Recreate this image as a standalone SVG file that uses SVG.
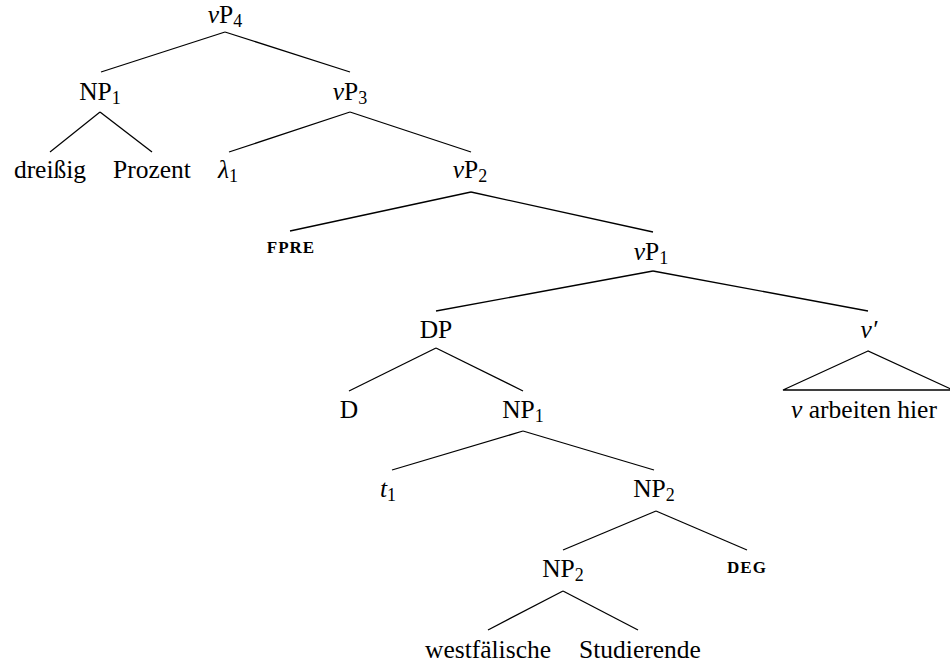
<svg xmlns="http://www.w3.org/2000/svg" width="950" height="668" viewBox="0 0 950 668">
<style>
text{font-size:25.5px;fill:#000;text-anchor:middle}
.i{font-style:italic}
.s{font-size:18px}
.sc{font-size:17px;font-weight:bold;letter-spacing:1px}
.e line,.e polygon{stroke:#000;stroke-width:1.3;fill:none}
</style>
<rect width="950" height="668" fill="#fff"/>
<g class="e" id="connectors">
<line x1="225" y1="32" x2="101" y2="72"/><line x1="225" y1="32" x2="350" y2="72"/>
<line x1="100" y1="112" x2="50" y2="152"/><line x1="100" y1="112" x2="152" y2="152"/>
<line x1="350" y1="112" x2="229" y2="152"/><line x1="350" y1="112" x2="471" y2="152"/>
<line x1="471" y1="192" x2="290" y2="231"/><line x1="471" y1="192" x2="653" y2="232"/>
<line x1="653" y1="271" x2="436" y2="311"/><line x1="653" y1="271" x2="868" y2="311"/>
<line x1="436" y1="348" x2="349" y2="391"/><line x1="436" y1="348" x2="523" y2="391"/>
<polygon points="868,351 783,390 953,390"/>
<line x1="523" y1="431" x2="392" y2="470"/><line x1="523" y1="431" x2="654" y2="470"/>
<line x1="656" y1="511" x2="563" y2="550"/><line x1="656" y1="511" x2="747" y2="550"/>
<line x1="563" y1="591" x2="488" y2="630"/><line x1="563" y1="591" x2="638" y2="630"/>
</g>
<g id="vP4"><text font-family="'Liberation Serif', serif" x="225" y="23"><tspan class="i">v</tspan>P<tspan class="s" dy="4">4</tspan></text></g>
<g id="NP1top"><text font-family="'Liberation Serif', serif" x="100" y="100">NP<tspan class="s" dy="4">1</tspan></text></g>
<g id="vP3"><text font-family="'Liberation Serif', serif" x="350" y="100"><tspan class="i">v</tspan>P<tspan class="s" dy="4">3</tspan></text></g>
<g id="dreissig"><text font-family="'Liberation Serif', serif" x="50" y="178">dreißig</text></g>
<g id="Prozent"><text font-family="'Liberation Serif', serif" x="152" y="178">Prozent</text></g>
<g id="lambda1"><text font-family="'Liberation Serif', serif" x="228" y="178"><tspan class="i">λ</tspan><tspan class="s" dy="4">1</tspan></text></g>
<g id="vP2"><text font-family="'Liberation Serif', serif" x="470" y="178"><tspan class="i">v</tspan>P<tspan class="s" dy="4">2</tspan></text></g>
<g id="FPRE"><text font-family="'Liberation Serif', serif" class="sc" x="291" y="253">FPRE</text></g>
<g id="vP1"><text font-family="'Liberation Serif', serif" x="651" y="260"><tspan class="i">v</tspan>P<tspan class="s" dy="4">1</tspan></text></g>
<g id="DP"><text font-family="'Liberation Serif', serif" x="436" y="338">DP</text></g>
<g id="vbar"><text font-family="'Liberation Serif', serif" class="i" x="869" y="338">v′</text></g>
<g id="D"><text font-family="'Liberation Serif', serif" x="349" y="418">D</text></g>
<g id="NP1mid"><text font-family="'Liberation Serif', serif" x="523" y="418">NP<tspan class="s" dy="4">1</tspan></text></g>
<g id="varbeiten"><text font-family="'Liberation Serif', serif" x="864" y="418"><tspan class="i">v</tspan> arbeiten hier</text></g>
<g id="t1"><text font-family="'Liberation Serif', serif" x="388" y="497"><tspan class="i">t</tspan><tspan class="s" dy="4">1</tspan></text></g>
<g id="NP2upper"><text font-family="'Liberation Serif', serif" x="654" y="497">NP<tspan class="s" dy="4">2</tspan></text></g>
<g id="NP2lower"><text font-family="'Liberation Serif', serif" x="563" y="577">NP<tspan class="s" dy="4">2</tspan></text></g>
<g id="DEG"><text font-family="'Liberation Serif', serif" class="sc" x="747" y="573">DEG</text></g>
<g id="westfaelische"><text font-family="'Liberation Serif', serif" x="488" y="658">westfälische</text></g>
<g id="Studierende"><text font-family="'Liberation Serif', serif" x="640" y="658">Studierende</text></g>
</svg>
